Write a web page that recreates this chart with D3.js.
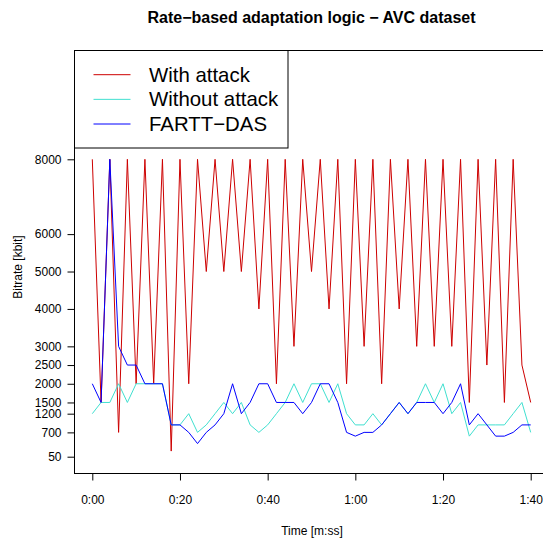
<!DOCTYPE html>
<html>
<head>
<meta charset="utf-8">
<script src="https://cdn.jsdelivr.net/npm/d3@7"></script>
<style>
  html, body { margin: 0; padding: 0; background: #fff; }
  svg { display: block; font-family: "Liberation Sans", Arial, sans-serif; }
</style>
</head>
<body>
<svg id="chart" width="543" height="542"></svg>
<script>
// ---- data ----
const times = [0,2,4,6,8,10,12,14,16,18,20,22,24,26,28,30,32,34,36,38,40,42,44,46,48,50,
               52,54,56,58,60,62,64,66,68,70,72,74,76,78,80,82,84,86,88,90,92,94,96,98,100];
const withAttack = [8000,1500,8000,700,8000,2000,8000,2000,8000,200,8000,2000,8000,5000,8000,5000,
                    8000,5000,8000,4000,8000,2000,8000,3000,8000,5000,8000,4000,8000,2000,8000,3000,
                    8000,2000,8000,4000,8000,3000,8000,3000,8000,3000,8000,1500,8000,2500,8000,1500,
                    8000,2500,1500];
const withoutAttack = [1200,1500,1500,2000,1500,2000,2000,2000,2000,900,900,1200,700,900,1200,1500,
                       1200,1500,900,700,900,1200,1500,2000,1500,2000,2000,1500,2000,1200,900,900,
                       1200,900,1200,1500,1200,1500,2000,1500,2000,1200,1500,600,900,900,900,900,
                       1200,1500,700];
const farttDas = [2000,1500,8000,3000,2500,2500,2000,2000,2000,900,900,700,400,700,900,1200,
                  2000,1200,1500,2000,2000,1500,1500,1500,1200,1500,2000,2000,1500,700,600,700,
                  700,900,1200,1500,1200,1500,1500,1500,1200,1500,2000,900,1200,900,600,600,
                  700,900,900];
const yTicks = [50,700,1200,1500,2000,2500,3000,4000,5000,6000,8000];
const xTicks = [0,20,40,60,80,100];
const xTickLabels = ["0:00","0:20","0:40","1:00","1:20","1:40"];
const seriesNames = ["With attack","Without attack","FARTT\u2212DAS"];
const seriesColors = ["#CD0000","#40E0D0","#0000FF"];

// ---- layout ----
const svg = d3.select("#chart");
const frame = {left: 74.5, top: 50.5, right: 549, bottom: 473.5};

const x = d3.scaleLinear().domain([0, 100]).range([92.3, 530.7]);
const y = d3.scaleLinear().domain([50, 8000]).range([456.7, 159.3]);

// title
svg.append("text")
  .attr("x", 311.5).attr("y", 22.5)
  .attr("text-anchor", "middle")
  .attr("font-weight", "bold")
  .attr("font-size", 16)
  .text("Rate\u2212based adaptation logic \u2212 AVC dataset");

// lines
const line = d3.line().x((d, i) => x(times[i])).y(d => y(d));
[withAttack, withoutAttack, farttDas].forEach((s, k) => {
  svg.append("path")
    .datum(s)
    .attr("fill", "none")
    .attr("stroke", seriesColors[k])
    .attr("stroke-width", 1)
    .attr("d", line);
});

// frame
svg.append("rect")
  .attr("x", frame.left).attr("y", frame.top)
  .attr("width", frame.right - frame.left)
  .attr("height", frame.bottom - frame.top)
  .attr("fill", "none").attr("stroke", "#000").attr("stroke-width", 1);

// axes
const yAxis = d3.axisLeft(y).tickValues(yTicks).tickSize(7).tickPadding(6).tickFormat(d3.format("d"));
const gy = svg.append("g").attr("transform", `translate(${frame.left},0)`).call(yAxis);
gy.select(".domain").remove();
gy.selectAll("text").attr("font-size", 12).attr("font-family", "Liberation Sans, Arial, sans-serif");

const xAxis = d3.axisBottom(x).tickValues(xTicks).tickSize(7).tickPadding(15)
  .tickFormat((d, i) => xTickLabels[i]);
const gx = svg.append("g").attr("transform", `translate(0,${frame.bottom})`).call(xAxis);
gx.select(".domain").remove();
gx.selectAll("text").attr("font-size", 12).attr("font-family", "Liberation Sans, Arial, sans-serif");

// axis titles
svg.append("text")
  .attr("x", 312).attr("y", 534.5)
  .attr("text-anchor", "middle")
  .attr("font-size", 12)
  .text("Time [m:ss]");
svg.append("text")
  .attr("transform", "translate(22,267) rotate(-90)")
  .attr("text-anchor", "middle")
  .attr("font-size", 12)
  .text("Bitrate [kbit]");

// legend
const lg = svg.append("g");
lg.append("rect")
  .attr("x", frame.left).attr("y", frame.top)
  .attr("width", 288 - frame.left).attr("height", 148 - frame.top)
  .attr("fill", "#fff").attr("stroke", "#000").attr("stroke-width", 1);
seriesNames.forEach((name, k) => {
  const ly = 74.7 + k * 24.65;
  lg.append("line")
    .attr("x1", 93.5).attr("x2", 130.5).attr("y1", ly).attr("y2", ly)
    .attr("stroke", seriesColors[k]).attr("stroke-width", 1);
  lg.append("text")
    .attr("x", 149).attr("y", ly).attr("dy", "0.35em")
    .attr("font-size", 20.4)
    .text(name);
});
</script>
</body>
</html>
